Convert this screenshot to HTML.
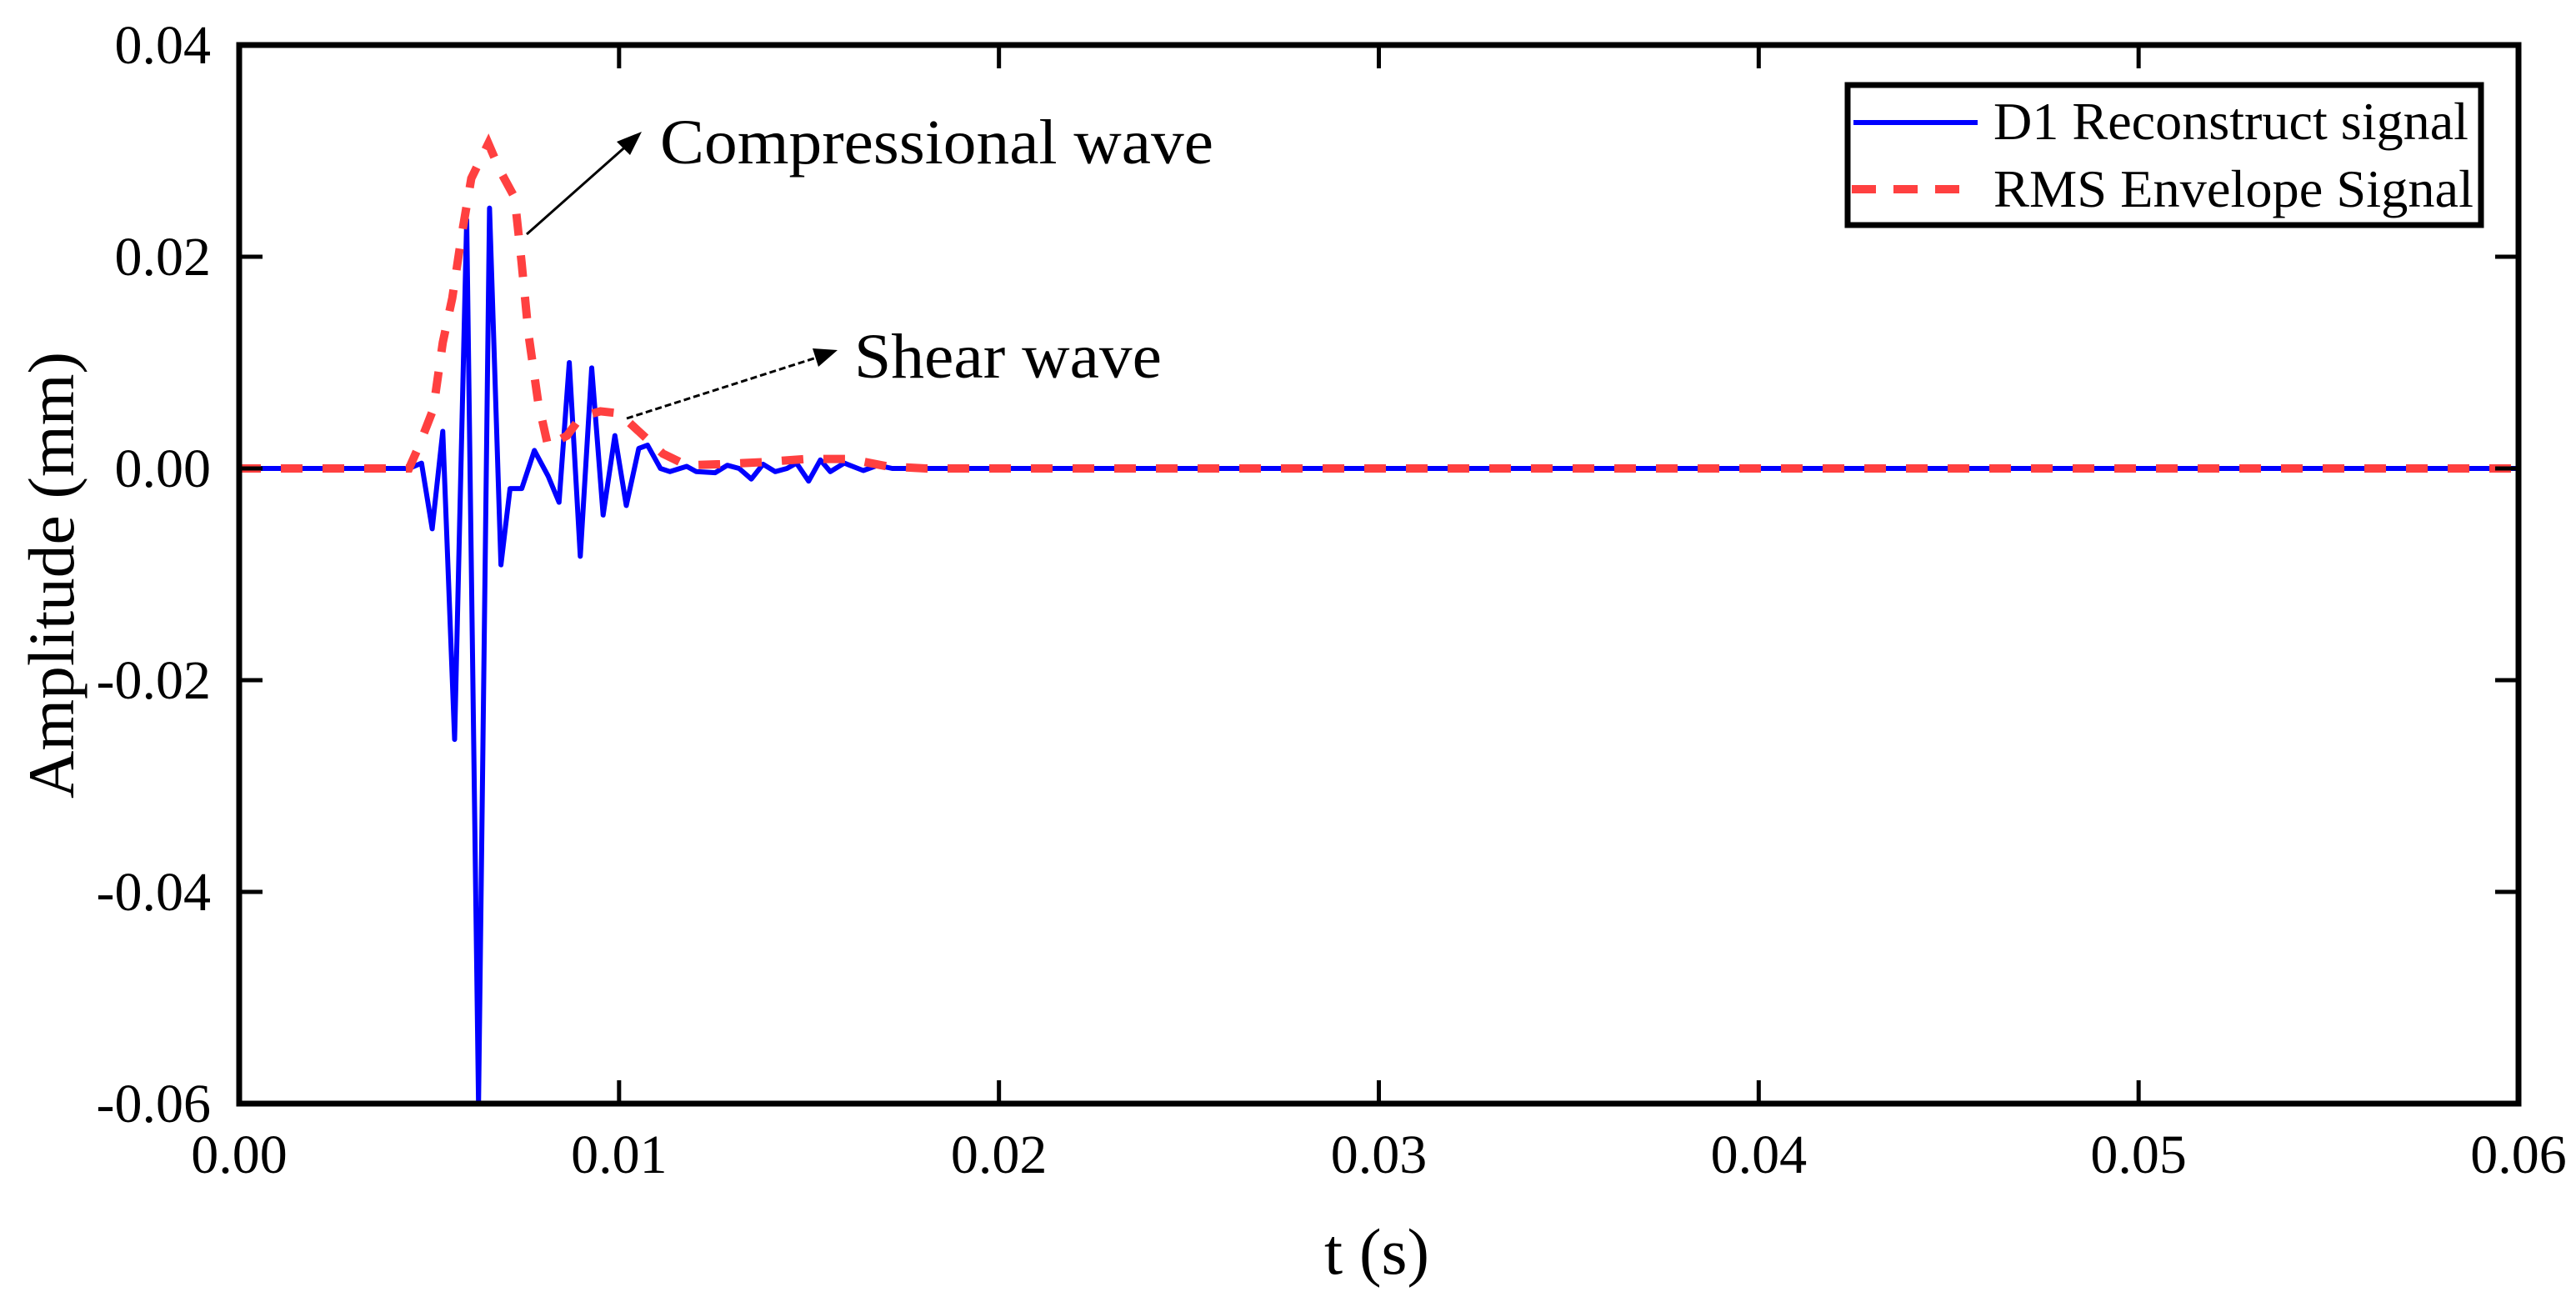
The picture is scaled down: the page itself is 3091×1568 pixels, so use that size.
<!DOCTYPE html>
<html><head><meta charset="utf-8"><style>
html,body{margin:0;padding:0;background:#fff;}
svg{display:block;}
text{font-family:"Liberation Serif","DejaVu Serif",serif;fill:#000;}
</style></head><body>
<svg id="chart" width="3091" height="1568" viewBox="0 0 3091 1568" xmlns="http://www.w3.org/2000/svg">
<g id="plot"></g>
<g id="axes"></g>
<text x="1652" y="1528" font-size="78" text-anchor="middle" textLength="126" lengthAdjust="spacingAndGlyphs">t (s)</text>
<text transform="translate(88,690) rotate(-90)" font-size="78" text-anchor="middle" textLength="536" lengthAdjust="spacingAndGlyphs">Amplitude (mm)</text>
<g>
<line x1="632" y1="281" x2="755" y2="172" stroke="#000" stroke-width="3"/>
<polygon points="770,158 740,170 756,186" fill="#000"/>
<text x="792" y="196" font-size="76" textLength="664" lengthAdjust="spacingAndGlyphs">Compressional wave</text>
</g>
<g>
<line x1="752" y1="502" x2="986" y2="427" stroke="#000" stroke-width="3" stroke-dasharray="8 4"/>
<polygon points="1005,420 975,418 982,440" fill="#000"/>
<text x="1025" y="453" font-size="76" textLength="369" lengthAdjust="spacingAndGlyphs">Shear wave</text>
</g>
<g>
<rect x="2217" y="102" width="760" height="168" fill="#fff" stroke="#000" stroke-width="7"/>
<line x1="2224" y1="147" x2="2373" y2="147" stroke="#0000ff" stroke-width="6"/>
<text x="2392" y="167" font-size="64" textLength="570" lengthAdjust="spacingAndGlyphs">D1 Reconstruct signal</text>
<line x1="2222" y1="227" x2="2352" y2="227" stroke="#ff4040" stroke-width="10" stroke-dasharray="29 21"/>
<text x="2392" y="248" font-size="64" textLength="576" lengthAdjust="spacingAndGlyphs">RMS Envelope Signal</text>
</g>
</svg>
<script>
const xTicks=[0,0.01,0.02,0.03,0.04,0.05,0.06];
const xTickLabels=["0.00","0.01","0.02","0.03","0.04","0.05","0.06"];
const yTicks=[0.04,0.02,0,-0.02,-0.04,-0.06];
const yTickLabels=["0.04","0.02","0.00","-0.02","-0.04","-0.06"];
const d1Time=[0,4.47,4.8,5.08,5.36,5.67,5.99,6.3,6.59,6.89,7.13,7.44,7.77,8.13,8.42,8.69,8.98,9.28,9.58,9.89,10.19,10.52,10.75,11.09,11.34,11.78,12.03,12.53,12.85,13.16,13.48,13.79,14.11,14.42,14.67,14.99,15.3,15.56,15.93,16.43,16.81,17.19,18,20,60];
const d1Amp=[0,0,0.5,-5.7,3.5,-25.6,23.5,-60,24.6,-9.1,-1.9,-1.9,1.7,-0.7,-3.2,10,-8.3,9.5,-4.4,3.1,-3.5,1.9,2.2,0,-0.3,0.2,-0.3,-0.4,0.3,0,-1.0,0.4,-0.3,0,0.5,-1.2,0.8,-0.3,0.5,-0.2,0.3,0,0,0,0];
const rmsTime=[0,4.47,4.73,5.11,5.36,5.61,5.86,6.11,6.56,6.87,7.25,7.43,7.62,7.87,8.13,8.63,9.0,9.51,10.01,10.52,11.15,11.78,12.66,13.79,14.93,16.06,17.06,18.07,60];
const rmsAmp=[0,0,2.1,5.6,11.9,16.1,22.1,27.4,30.7,28.1,25.6,19.6,12.6,6.3,2.1,3.1,4.9,5.4,5.2,3.5,1.4,0.3,0.4,0.6,0.9,0.9,0.2,0,0];
const X0=287,X1=3022,Y0=54,Y1=1324;
const xs=v=>X0+(v-0)/(0.06)*(X1-X0);
const ys=v=>Y1-(v-(-0.06))/(0.1)*(Y1-Y0);
const NS="http://www.w3.org/2000/svg";
const plot=document.getElementById('plot'),axes=document.getElementById('axes');
function mk(tag,attrs,parent){const e=document.createElementNS(NS,tag);for(const k in attrs)e.setAttribute(k,attrs[k]);parent.appendChild(e);return e;}
const clip=mk('clipPath',{id:'pc'},plot);mk('rect',{x:X0,y:Y0,width:X1-X0,height:Y1-Y0},clip);
let d='';d1Time.forEach((t,i)=>{d+=(i?'L':'M')+xs(t/1000).toFixed(1)+','+ys(d1Amp[i]/1000).toFixed(1);});
const blue=mk('path',{d:d,fill:'none',stroke:'#0000ff','stroke-width':6,'stroke-linejoin':'round','clip-path':'url(#pc)'},plot);


let d2='';rmsTime.forEach((t,i)=>{d2+=(i?'L':'M')+xs(t/1000).toFixed(1)+','+ys(rmsAmp[i]/1000).toFixed(1);});
const red=mk('path',{d:d2,fill:'none',stroke:'#ff4040','stroke-width':10,'stroke-dasharray':'26 24','clip-path':'url(#pc)'},plot);


const frame=mk('rect',{x:X0,y:Y0,width:X1-X0,height:Y1-Y0,fill:'none',stroke:'#000','stroke-width':7},axes);


xTicks.forEach((v,i)=>{const x=xs(v);
 mk('line',{x1:x,y1:Y1,x2:x,y2:Y1-28,stroke:'#000','stroke-width':5},axes);
 mk('line',{x1:x,y1:Y0,x2:x,y2:Y0+28,stroke:'#000','stroke-width':5},axes);
 const t=mk('text',{x:x,y:1407,'font-size':66,'text-anchor':'middle'},axes);t.textContent=xTickLabels[i];
 
 
});
yTicks.forEach((v,i)=>{const y=ys(v);
 mk('line',{x1:X0,y1:y,x2:X0+28,y2:y,stroke:'#000','stroke-width':5},axes);
 mk('line',{x1:X1,y1:y,x2:X1-28,y2:y,stroke:'#000','stroke-width':5},axes);
 const t=mk('text',{x:253,y:y+22,'font-size':66,'text-anchor':'end'},axes);t.textContent=yTickLabels[i];
 
 
});
</script>
</body></html>
